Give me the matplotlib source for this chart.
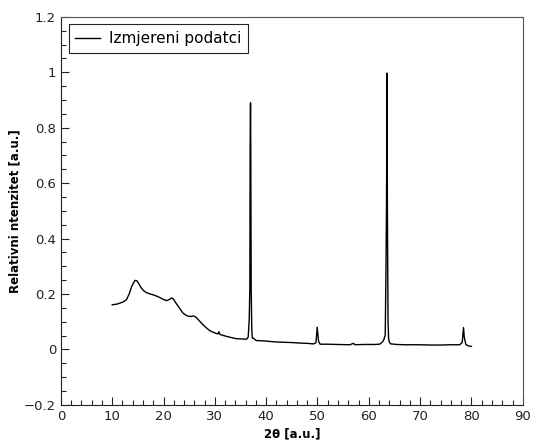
import matplotlib
matplotlib.use("Agg")
import matplotlib.pyplot as plt
from matplotlib.ticker import MultipleLocator, FuncFormatter

# 2theta [deg] and relative intensity
two_theta = [
    10.0, 11.0, 12.1, 12.8, 13.3, 13.8, 14.4, 14.8, 15.2, 15.7, 16.2, 16.7,
    17.4, 18.0, 19.0, 19.9, 20.6, 21.2, 21.6, 21.9, 22.4, 22.9, 23.8, 24.6,
    25.2, 25.8, 26.3, 27.0, 27.7, 28.4, 29.0, 29.8, 30.6, 30.8, 31.0, 32.3,
    33.2, 34.2, 35.2, 36.2, 36.5, 36.7, 36.82, 36.88, 36.95, 37.0, 37.08,
    37.2, 37.3, 37.6, 37.8, 38.1, 39.5, 40.7, 42.0, 43.3, 45.0, 46.6, 48.0,
    49.2, 49.7, 49.95, 50.2, 50.5, 52.0, 54.0, 56.3, 57.0, 57.3, 59.0, 61.0,
    62.1, 62.6, 62.9, 63.2, 63.35, 63.45, 63.55, 63.62, 63.68, 63.75, 63.85,
    64.0, 64.3, 65.5, 67.0, 69.9, 72.0, 74.0, 76.0, 77.7, 78.2, 78.45,
    78.6, 78.9, 79.4, 80.0,
]
intensity = [
    0.161, 0.164, 0.171, 0.180, 0.200, 0.227, 0.249, 0.248, 0.237, 0.221,
    0.211, 0.205, 0.200, 0.197, 0.190, 0.181, 0.176, 0.181, 0.186, 0.182,
    0.168, 0.155, 0.131, 0.121, 0.119, 0.121, 0.117, 0.103, 0.089, 0.077,
    0.068, 0.061, 0.056, 0.064, 0.054, 0.047, 0.043, 0.039, 0.038, 0.037,
    0.045, 0.11, 0.22, 0.74, 0.89, 0.73, 0.22, 0.07, 0.041, 0.040, 0.036,
    0.032, 0.031, 0.029, 0.027, 0.026, 0.025, 0.023, 0.022, 0.020, 0.024,
    0.080, 0.030, 0.019, 0.019, 0.018, 0.017, 0.022, 0.017, 0.018, 0.018,
    0.019, 0.026, 0.034, 0.052, 0.30, 0.53, 0.997, 0.53, 0.30, 0.10, 0.040,
    0.026, 0.020, 0.018, 0.017, 0.017, 0.016, 0.016, 0.017, 0.017, 0.025,
    0.079, 0.045, 0.018, 0.013, 0.011,
]

X_TICK_STEP = 10
Y_TICK_STEP = 0.2


def fmt_tick(v, pos):
    v = round(v, 6)
    if v == 0:
        return "0"
    return f"{v:g}".replace("-", "\u2212")


fig = plt.figure(figsize=(5.34, 4.43), dpi=100)
ax = fig.add_axes([0.114, 0.086, 0.865, 0.876])

ax.plot(two_theta, intensity, color="black", linewidth=1.0, label="Izmjereni podatci")

ax.set_xlim(0, 90)
ax.set_ylim(-0.2, 1.2)
ax.xaxis.set_major_locator(MultipleLocator(X_TICK_STEP))
ax.xaxis.set_minor_locator(MultipleLocator(2))
ax.yaxis.set_major_locator(MultipleLocator(Y_TICK_STEP))
ax.yaxis.set_minor_locator(MultipleLocator(0.05))
ax.xaxis.set_major_formatter(FuncFormatter(fmt_tick))
ax.yaxis.set_major_formatter(FuncFormatter(fmt_tick))

ax.tick_params(which="both", direction="in", top=False, right=False, labelsize=9.5, colors="#222222")
ax.tick_params(which="major", length=6, width=0.8)
ax.tick_params(which="minor", length=3.5, width=0.8)

for side in ["left", "bottom"]:
    ax.spines[side].set_color("#222222")
for side in ["top", "right"]:
    ax.spines[side].set_color("#555555")

ax.set_xlabel("2\u03b8 [a.u.]", fontweight="bold", fontsize=8.5, labelpad=3.5)
ax.set_ylabel("Relativni ntenzitet [a.u.]", fontweight="bold", fontsize=8.5, labelpad=2)

leg = ax.legend(loc="upper left", fontsize=11, fancybox=False, framealpha=1,
                edgecolor="#222222", borderaxespad=0.5, handlelength=1.6,
                handletextpad=0.6, borderpad=0.45)
leg.get_frame().set_linewidth(0.8)

fig.savefig("out.png", dpi=100)
